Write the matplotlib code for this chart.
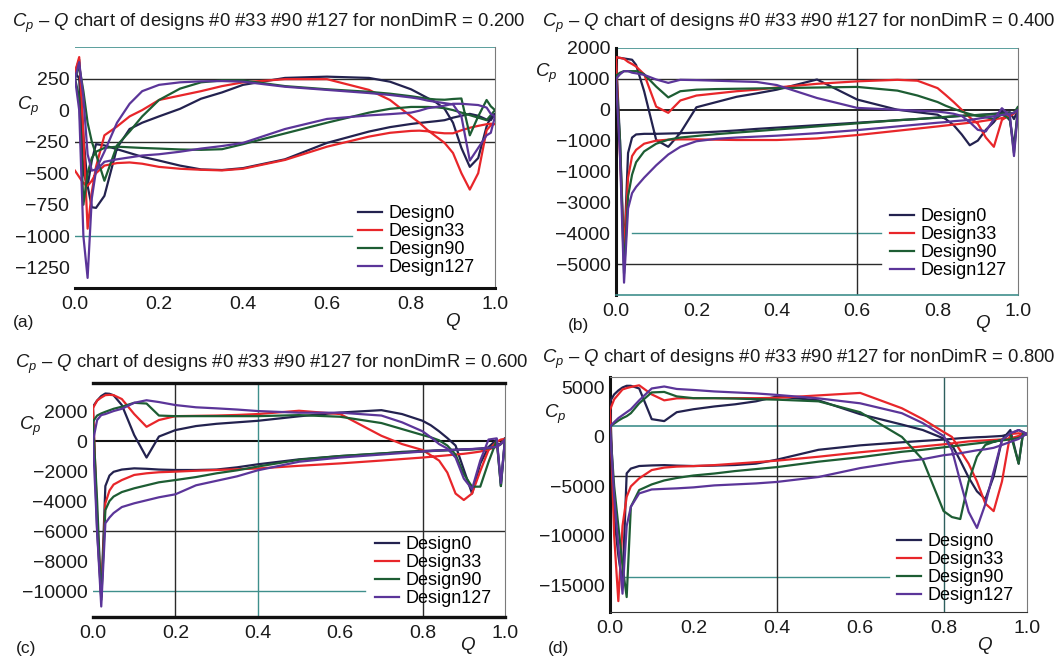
import matplotlib
matplotlib.use('Agg')
import matplotlib.pyplot as plt

plt.rcParams['font.family'] = ['Liberation Sans', 'DejaVu Sans']
plt.rcParams['mathtext.fontset'] = 'custom'
plt.rcParams['mathtext.rm'] = 'Liberation Sans'
plt.rcParams['mathtext.it'] = 'Liberation Sans:italic'

# ---------------- data ----------------
Q = [0.0, 0.01, 0.02, 0.03, 0.04, 0.05, 0.07, 0.1, 0.13, 0.16, 0.2, 0.25, 0.3, 0.35, 0.4,
     0.5, 0.6, 0.7, 0.75, 0.8, 0.82, 0.84, 0.86, 0.88, 0.9, 0.92, 0.94, 0.96, 0.98, 0.99, 1.0]

designs = ['Design0', 'Design33', 'Design90', 'Design127']
colors = ['#23224f', '#e8262a', '#1d5d33', '#5b3599']

# (a) nonDimR = 0.200
a_d0_up = [300, 400, -200, -600, -770, -775, -680, -300, -150, -100, -50, 10, 90, 140, 200,
           255, 265, 255, 225, 165, 130, 95, 60, 10, -100, -300, -450, -380, -130, -50, -30]
a_d0_lo = [300, 250, -500, -600, -400, -270, -280, -310, -340, -370, -400, -440, -470, -475, -460,
           -390, -260, -170, -135, -110, -102, -95, -88, -80, -60, -45, -30, -45, -75, -80, -30]
a_d33_up = [300, 420, -200, -940, -650, -450, -200, -130, -50, 0, 80, 115, 150, 190, 220,
            245, 245, 160, 80, -50, -100, -160, -210, -260, -340, -500, -630, -500, -160, -120, -110]
a_d33_lo = [-480, -530, -580, -600, -560, -500, -440, -420, -415, -425, -450, -465, -473, -478, -465,
            -395, -290, -210, -180, -165, -163, -168, -178, -184, -184, -160, -140, -125, -112, -108, -110]
a_d90_up = [250, 350, 150, -100, -250, -350, -560, -280, -170, -50, 80, 170, 220, 235, 235,
            190, 165, 145, 130, 110, 100, 90, 84, 82, 88, 92, -200, -50, 80, 30, 0]
a_d90_lo = [250, 100, -750, -500, -380, -330, -300, -290, -295, -300, -305, -312, -315, -310, -270,
            -185, -100, -20, 10, 25, 25, 25, 22, 15, 0, -20, -40, -60, -80, -40, 0]
a_d127_up = [250, 380, 100, -350, -480, -470, -330, -100, 50, 150, 200, 220, 228, 230, 225,
             185, 160, 135, 120, 100, 90, 75, 65, 55, 45, -50, -400, -300, -200, -180, -50]
a_d127_lo = [250, 0, -1000, -1330, -700, -480, -410, -390, -375, -360, -350, -330, -305, -285, -260,
             -150, -70, -42, -32, -20, -5, 15, 25, 35, 50, 50, 45, 40, 20, -30, -50]

# (b) nonDimR = 0.400
b_d0_up = [1700, 1680, 1660, 1640, 1620, 1450, 600, -980, -1200, -750, 80, 250, 420, 530, 650,
           980, 330, 0, -80, -160, -300, -500, -800, -1150, -1000, -650, -400, -50, -350, -1200, 0]
b_d0_lo = [1700, -1000, -4700, -1400, -900, -800, -780, -780, -770, -760, -740, -710, -670, -620, -580,
           -500, -420, -340, -300, -260, -240, -220, -200, -180, -170, -150, -130, -100, -80, -300, 0]
b_d33_up = [1700, 1680, 1650, 1550, 1480, 1400, 1150, 100, -100, 300, 460, 530, 600, 650, 720,
            840, 920, 970, 940, 700, 480, 250, 0, -250, -450, -900, -1200, -330, -160, -100, 0]
b_d33_lo = [1700, -1500, -4600, -2200, -1500, -1300, -1100, -1000, -970, -960, -960, -970, -980, -980, -980,
            -930, -820, -680, -610, -540, -510, -480, -450, -420, -390, -350, -310, -270, -200, -120, 0]
b_d90_up = [1100, 1200, 1250, 1250, 1250, 1250, 1150, 750, 400, 600, 650, 670, 680, 690, 700,
            720, 740, 620, 460, 250, 130, 30, -60, -140, -200, -240, -300, -150, -300, -1400, 100]
b_d90_lo = [1100, -1000, -5300, -2800, -2100, -1700, -1350, -1100, -970, -900, -850, -790, -740, -690, -640,
            -540, -440, -340, -300, -250, -230, -210, -195, -180, -170, -160, -150, -130, -110, -100, 100]
b_d127_up = [1000, 1150, 1250, 1250, 1200, 1180, 1130, 980, 870, 970, 960, 940, 920, 900, 800,
             380, 60, 0, -30, -60, -90, -130, -200, -400, -650, -700, -300, 50, -200, -1500, 0]
b_d127_lo = [1000, -1500, -5600, -3200, -2700, -2500, -2200, -1800, -1450, -1200, -1020, -940, -900, -870, -840,
             -760, -660, -540, -480, -420, -400, -370, -350, -330, -290, -250, -210, -170, -130, -100, 0]

# (c) nonDimR = 0.600
c_d0_up = [2300, 2700, 3000, 3170, 3150, 3050, 2400, 400, -1100, 300, 730, 1000, 1150, 1250, 1350,
           1650, 1900, 2060, 1800, 1350, 1050, 650, 200, -300, -1900, -3500, -1500, -400, 100, -3000, 200]
c_d0_lo = [2300, -6000, -10400, -3000, -2300, -2050, -1900, -1820, -1850, -1900, -1930, -1930, -1900, -1750, -1550,
           -1220, -1000, -840, -720, -660, -640, -620, -600, -580, -560, -540, -500, -450, -300, -150, 200]
c_d33_up = [2200, 2700, 2900, 3060, 3080, 3060, 2800, 1800, 950, 1400, 1660, 1680, 1700, 1740, 1800,
            2020, 1800, 350, -200, -600, -950, -1300, -2100, -3500, -3930, -3500, -2000, -600, -50, 100, 150]
c_d33_lo = [2200, -5000, -10370, -4150, -3300, -2900, -2600, -2260, -2150, -2080, -2040, -1980, -1930, -1880, -1830,
            -1650, -1490, -1300, -1200, -1100, -1050, -1000, -950, -900, -850, -780, -700, -550, -380, -200, 150]
c_d90_up = [1300, 1700, 1840, 1950, 2050, 2150, 2290, 2550, 2500, 1700, 1660, 1660, 1660, 1660, 1660,
            1730, 1620, 1200, 800, 400, 250, 50, -300, -900, -2200, -3040, -3040, -1400, 50, -3000, 100]
c_d90_lo = [1300, -4000, -10590, -4600, -4000, -3700, -3400, -3150, -2950, -2750, -2600, -2400, -2150, -1950, -1700,
            -1250, -1000, -820, -750, -700, -670, -640, -620, -600, -580, -560, -530, -480, -350, -200, 100]
c_d127_up = [0, 1400, 1730, 1800, 1900, 2000, 2150, 2550, 2720, 2600, 2400, 2250, 2180, 2100, 2000,
             1890, 1890, 1700, 1250, 650, 250, -200, -500, -1100, -2500, -3200, -1300, 100, 180, -2800, 100]
c_d127_lo = [0, -6000, -11030, -5480, -5100, -4800, -4400, -4150, -3950, -3750, -3550, -2950, -2650, -2350, -1950,
             -1380, -1100, -900, -800, -700, -660, -630, -600, -580, -550, -530, -500, -450, -380, -200, 100]

# (d) nonDimR = 0.800
d_d0_up = [3580, 4300, 4700, 5000, 5170, 5170, 4900, 1800, 1600, 2500, 2800, 3080, 3300, 3600, 4090,
           3700, 2300, 1250, 700, -150, -800, -2400, -4100, -5500, -6300, -4000, -300, 700, -2700, 200, 300]
d_d0_lo = [3580, -8000, -12000, -14840, -3680, -3200, -2940, -2880, -2850, -2900, -2940, -2900, -2840, -2700, -2300,
           -1300, -850, -540, -400, -270, -200, -130, -80, -30, 0, 50, 100, 300, 700, 500, 300]
d_d33_up = [2740, 3800, 4300, 4800, 4940, 5050, 5220, 4300, 3700, 3900, 3920, 3920, 3920, 3920, 3950,
            4200, 4450, 2900, 1800, 500, 0, -1400, -2700, -4500, -6730, -7500, -4500, 300, 370, 300, 300]
d_d33_lo = [2740, -10000, -16600, -9000, -6050, -5000, -4190, -3350, -3100, -3000, -2950, -2850, -2700, -2550, -2400,
            -2000, -1550, -1150, -950, -750, -650, -550, -450, -400, -350, -300, -250, -150, 100, 200, 300]
d_d90_up = [1050, 1350, 1650, 1900, 2100, 2400, 3400, 4500, 4550, 4100, 3920, 3920, 3880, 3820, 3770,
            3600, 2500, 0, -2300, -7500, -8100, -8300, -4500, -2000, -810, -500, -300, 370, -2700, 300, 300]
d_d90_lo = [1050, -5000, -9000, -13000, -16190, -7060, -5370, -4800, -4400, -4150, -3900, -3700, -3450, -3250, -3050,
            -2500, -2050, -1500, -1300, -1050, -950, -850, -750, -650, -550, -450, -350, -250, -100, 100, 300]
d_d127_up = [1050, 1500, 1900, 2200, 2500, 2800, 3700, 4900, 5100, 4850, 4750, 4600, 4500, 4400, 4250,
             3900, 3400, 2400, 1400, 100, -1300, -4500, -7570, -9200, -6800, -3500, -300, 370, 700, 500, 300]
d_d127_lo = [1050, -6000, -11000, -15850, -9000, -7060, -5710, -5310, -5250, -5200, -5100, -4900, -4800, -4700, -4550,
             -4050, -3150, -2500, -2250, -1850, -1750, -1650, -1500, -1350, -1250, -1100, -810, -500, -200, 100, 300]

x_ticks = [0.0, 0.2, 0.4, 0.6, 0.8, 1.0]
x_ticklabels = ['0.0', '0.2', '0.4', '0.6', '0.8', '1.0']

a_yticks = [250, 0, -250, -500, -750, -1000, -1250]
a_yticklabels = ['250', '0', '\u2212250', '\u2212500', '\u2212750', '\u22121000', '\u22121250']
b_yticks = [2000, 1000, 0, -1000, -2000, -3000, -4000, -5000]
b_yticklabels = ['2000', '1000', '0', '\u22121000', '\u22121000', '\u22123000', '\u22124000', '\u22125000']
c_yticks = [2000, 0, -2000, -4000, -6000, -8000, -10000]
c_yticklabels = ['2000', '0', '\u22122000', '\u22124000', '\u22126000', '\u22128000', '\u221210000']
d_yticks = [5000, 0, -5000, -10000, -15000]
d_yticklabels = ['5000', '0', '\u22125000', '\u221210000', '\u221215000']

radii = ['0.200', '0.400', '0.600', '0.800']

# ---------------- figure ----------------
W, H = 1060, 658
fig = plt.figure(figsize=(W / 100, H / 100), dpi=100)

TEAL = '#3f8f8c'
DARK = '#2a2a2a'
GRAY = '#7a7a7a'


def add_ax(l, t, r, b):
    return fig.add_axes([l / W, 1 - b / H, (r - l) / W, (b - t) / H])


def ftext(x, y, s, **kw):
    fig.text(x / W, 1 - y / H, s, **kw)


panels = [
    dict(box=(75, 47, 495, 288), ylim=(-1410, 500), yt=a_yticks, ytl=a_yticklabels,
         curves=[(a_d0_up, a_d0_lo), (a_d33_up, a_d33_lo), (a_d90_up, a_d90_lo), (a_d127_up, a_d127_lo)],
         title=(12, 23), cp=(28, 106), qlab=(453, 321), letter=(13, 323), leg=(358, 205)),
    dict(box=(616, 48, 1018, 295), ylim=(-6000, 2000), yt=b_yticks, ytl=b_yticklabels,
         curves=[(b_d0_up, b_d0_lo), (b_d33_up, b_d33_lo), (b_d90_up, b_d90_lo), (b_d127_up, b_d127_lo)],
         title=(542, 23), cp=(546, 73), qlab=(983, 323), letter=(568, 325), leg=(890, 208)),
    dict(box=(93, 383, 505, 617), ylim=(-11730, 3870), yt=c_yticks, ytl=c_yticklabels,
         curves=[(c_d0_up, c_d0_lo), (c_d33_up, c_d33_lo), (c_d90_up, c_d90_lo), (c_d127_up, c_d127_lo)],
         title=(15, 364), cp=(30, 426), qlab=(468, 645), letter=(16, 649), leg=(375, 536)),
    dict(box=(610, 377, 1027, 612), ylim=(-17700, 6060), yt=d_yticks, ytl=d_yticklabels,
         curves=[(d_d0_up, d_d0_lo), (d_d33_up, d_d33_lo), (d_d90_up, d_d90_lo), (d_d127_up, d_d127_lo)],
         title=(542, 359), cp=(555, 414), qlab=(985, 645), letter=(548, 649), leg=(897, 533)),
]

letters = ['(a)', '(b)', '(c)', '(d)']
axes = []
for i, p in enumerate(panels):
    ax = add_ax(*p['box'])
    axes.append(ax)
    ax.set_xlim(0, 1)
    ax.set_ylim(*p['ylim'])
    ax.set_xticks(x_ticks)
    ax.set_xticklabels(x_ticklabels)
    ax.set_yticks(p['yt'])
    ax.set_yticklabels(p['ytl'])
    ax.tick_params(axis='both', length=0, labelsize=14, colors='#1a1a1a')
    ax.tick_params(axis='x', pad=6)
    ax.tick_params(axis='y', pad=4)
    for j, (up, lo) in enumerate(p['curves']):
        xs = Q + Q[::-1]
        ys = up + lo[::-1]
        ax.plot(xs, ys, color=colors[j], lw=1.6, label=designs[j], zorder=3,
                solid_joinstyle='round')
    ftext(p['title'][0], p['title'][1],
          '$C_p$ \u2013 $Q$ chart of designs #0 #33 #90 #127 for nonDimR = ' + radii[i],
          fontsize=13.3, ha='left', va='center', color='#1a1a1a')
    ftext(p['cp'][0], p['cp'][1], '$C_p$', fontsize=13.5, ha='center', va='center', color='#1a1a1a')
    ftext(p['qlab'][0], p['qlab'][1], '$Q$', fontsize=13.5, ha='center', va='center', color='#1a1a1a')
    ftext(p['letter'][0], p['letter'][1], letters[i], fontsize=12.5, ha='left', va='center', color='#1a1a1a')
    ax.legend(loc='upper left', bbox_to_anchor=(p['leg'][0] / W, 1 - p['leg'][1] / H),
              bbox_transform=fig.transFigure, frameon=False, fontsize=13,
              handlelength=1.35, handletextpad=0.35, labelspacing=0.06, borderpad=0,
              borderaxespad=0)
    for s in ax.spines.values():
        s.set_visible(False)

# panel (a) reference lines
ax = axes[0]
ax.axhline(500, color=TEAL, lw=1.2, zorder=1)
ax.axhline(250, color=DARK, lw=1.0, zorder=1)
ax.axhline(-250, color=DARK, lw=1.0, zorder=1)
ax.axhline(-1000, xmin=0, xmax=0.66, color=TEAL, lw=1.0, zorder=1)
ax.spines['bottom'].set_visible(True)
ax.spines['bottom'].set_linewidth(2.2)
ax.spines['bottom'].set_color('#111111')
ax.spines['right'].set_visible(True)
ax.spines['right'].set_color(GRAY)

# panel (b)
ax = axes[1]
ax.axhline(2000, color=TEAL, lw=1.2, zorder=1)
ax.axhline(1000, color=DARK, lw=1.0, zorder=1)
ax.axhline(0, color='#111111', lw=1.3, zorder=1)
ax.axhline(-4000, xmin=0.04, xmax=0.66, color=TEAL, lw=1.0, zorder=1)
ax.axhline(-5000, xmin=0, xmax=0.66, color=DARK, lw=1.0, zorder=1)
ax.axvline(0.6, color=DARK, lw=1.0, zorder=1)
ax.spines['left'].set_visible(True)
ax.spines['left'].set_linewidth(2.2)
ax.spines['left'].set_color('#111111')
ax.spines['bottom'].set_visible(True)
ax.spines['bottom'].set_color(TEAL)
ax.spines['bottom'].set_linewidth(1.2)
ax.spines['right'].set_visible(True)
ax.spines['right'].set_color(GRAY)

# panel (c)
ax = axes[2]
ax.axhline(0, color='#111111', lw=1.5, zorder=1)
ax.axhline(-6000, color=DARK, lw=1.0, zorder=1)
ax.axhline(-10000, xmin=0, xmax=0.66, color=TEAL, lw=1.0, zorder=1)
ax.axvline(0.2, color=DARK, lw=1.0, zorder=1)
ax.axvline(0.4, color=TEAL, lw=1.0, zorder=1)
ax.axvline(0.8, color=DARK, lw=1.0, zorder=1)
for side in ('top', 'bottom'):
    ax.spines[side].set_visible(True)
    ax.spines[side].set_linewidth(2.4)
    ax.spines[side].set_color('#111111')
ax.spines['right'].set_visible(True)
ax.spines['right'].set_color(GRAY)

# panel (d)
ax = axes[3]
ax.axhline(1100, color=TEAL, lw=1.2, zorder=1)
ax.axhline(-3900, color=DARK, lw=1.0, zorder=1)
ax.axhline(-14200, xmin=0.036, xmax=0.67, color=TEAL, lw=1.0, zorder=1)
ax.axvline(0.4, color=DARK, lw=1.0, zorder=1)
ax.axvline(0.8, color='#2d5f5d', lw=1.0, zorder=1)
ax.spines['left'].set_visible(True)
ax.spines['left'].set_linewidth(2.2)
ax.spines['left'].set_color('#111111')
ax.spines['top'].set_visible(True)
ax.spines['top'].set_color(GRAY)
ax.spines['bottom'].set_visible(True)
ax.spines['bottom'].set_color('#333333')
ax.spines['right'].set_visible(True)
ax.spines['right'].set_color(GRAY)

fig.savefig('out.png', dpi=100)
